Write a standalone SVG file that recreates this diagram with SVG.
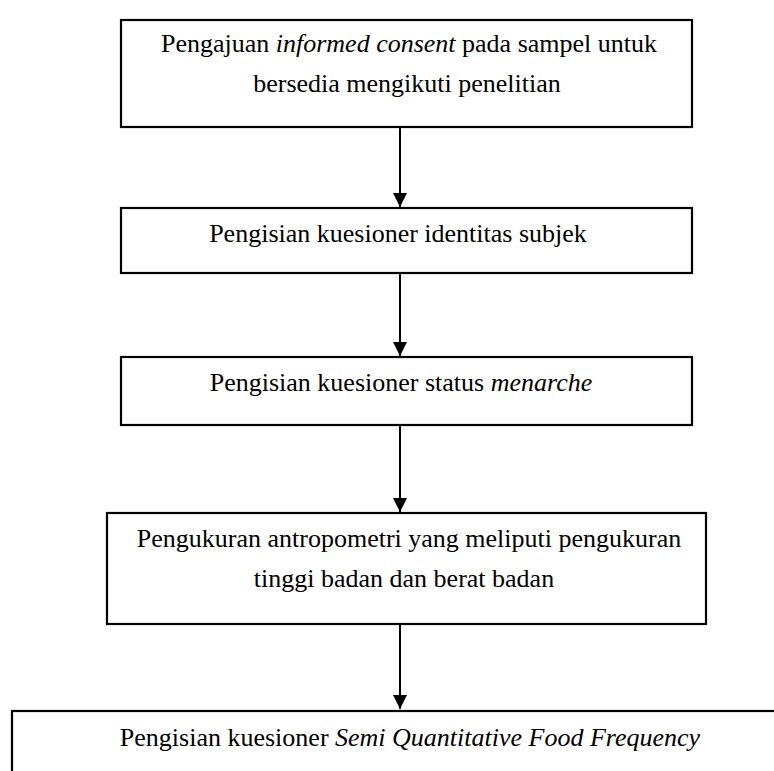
<svg xmlns="http://www.w3.org/2000/svg" width="774" height="771" viewBox="0 0 774 771">
<style>
.box{fill:#fff;stroke:#000;stroke-width:2.2}
.c{stroke:#000;stroke-width:2;fill:none}
</style>
<defs>
<marker id="ah" markerWidth="14" markerHeight="16" refX="14" refY="8" orient="auto" markerUnits="userSpaceOnUse">
<path d="M0,1 L14,8 L0,15 Z" fill="#000"/>
</marker>
</defs>
<rect width="774" height="771" fill="#fff"/>
<g id="connectors">
<line class="c" x1="400" y1="127" x2="400" y2="207" marker-end="url(#ah)"/>
<line class="c" x1="400" y1="273" x2="400" y2="356" marker-end="url(#ah)"/>
<line class="c" x1="400" y1="425" x2="400" y2="512" marker-end="url(#ah)"/>
<line class="c" x1="400" y1="624" x2="400" y2="709" marker-end="url(#ah)"/>
</g>
<g font-family="Liberation Serif" font-size="26" text-anchor="middle" fill="#000">
<g id="n1">
<rect class="box" x="121" y="20" width="571" height="107"/>
<text x="409" y="52">Pengajuan <tspan font-style="italic">informed consent</tspan> pada sampel untuk</text>
<text x="407" y="92">bersedia mengikuti penelitian</text>
</g>
<g id="n2">
<rect class="box" x="121" y="208" width="571" height="65"/>
<text x="398" y="242">Pengisian kuesioner identitas subjek</text>
</g>
<g id="n3">
<rect class="box" x="121" y="357" width="571" height="68"/>
<text x="401" y="391">Pengisian kuesioner status <tspan font-style="italic">menarche</tspan></text>
</g>
<g id="n4">
<rect class="box" x="107" y="513" width="599" height="111"/>
<text x="409" y="547">Pengukuran antropometri yang meliputi pengukuran</text>
<text x="404" y="587">tinggi badan dan berat badan</text>
</g>
<g id="n5">
<rect class="box" x="12" y="711" width="800" height="100"/>
<text x="410" y="746">Pengisian kuesioner <tspan font-style="italic">Semi Quantitative Food Frequency</tspan></text>
</g>
</g>
</svg>
